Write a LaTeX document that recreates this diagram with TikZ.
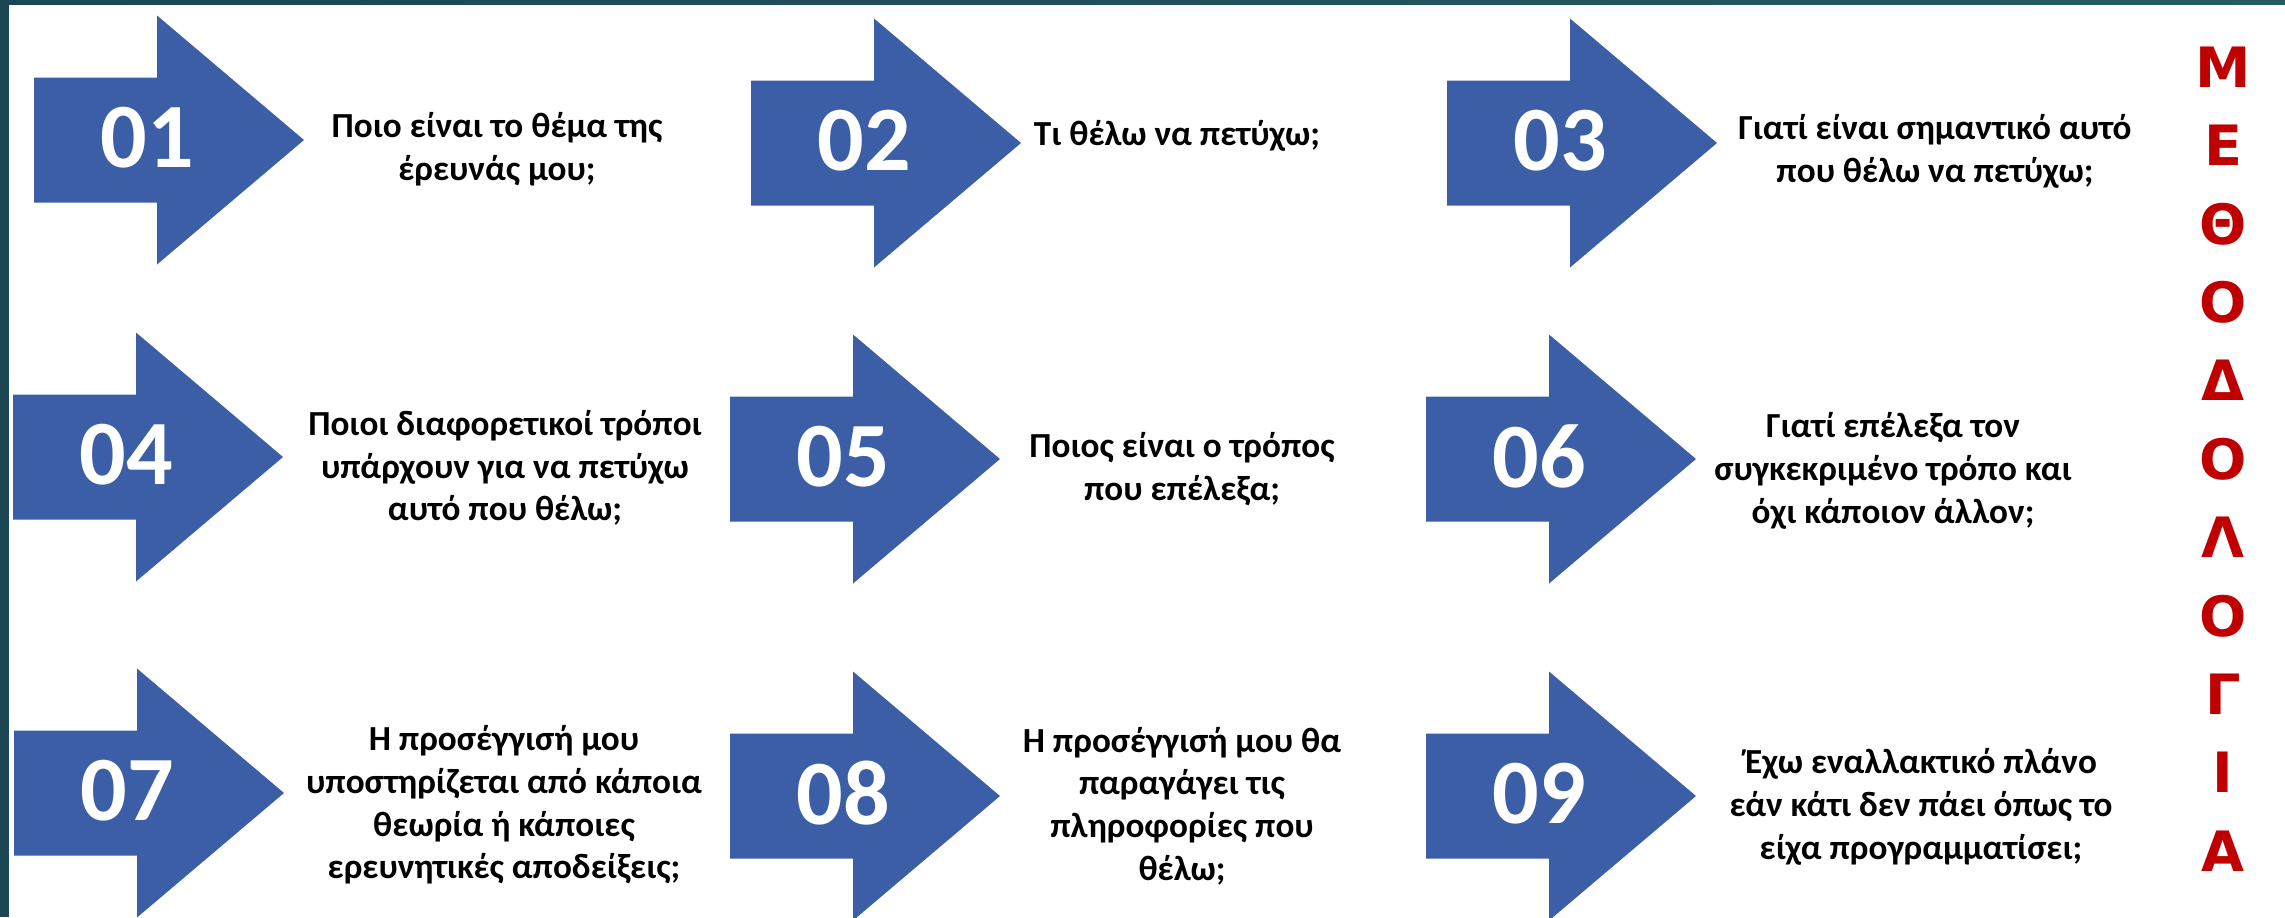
\documentclass[tikz,border=0pt]{standalone}
\usepackage{fontspec}
\setmainfont{Carlito}
\newfontfamily\redfont{DejaVu Sans}
\usepackage{tikz}
\usetikzlibrary{calc}
\definecolor{arrowblue}{RGB}{59,94,166}
\definecolor{titlered}{RGB}{192,0,0}
\definecolor{frameteal}{RGB}{27,70,84}
\definecolor{frametop}{RGB}{36,92,96}
\tikzset{
	blockarrow/.style={fill=arrowblue},
	stepnum/.style={text=white,font=\bfseries\fontsize{46}{46}\selectfont,inner sep=0pt},
	question/.style={align=center,font=\bfseries\fontsize{17.6}{21.35}\selectfont,inner sep=0pt},
	vertword/.style={align=center,text=titlered,font=\redfont\bfseries\fontsize{27.8}{39.2}\selectfont,inner sep=0pt}
}

\begin{document}
\begin{tikzpicture}[x=0.5pt,y=-0.5pt]
			\useasboundingbox (0,0) rectangle (2285,917);
			\fill[white] (0,0) rectangle (2285,917);
			% frame
			\fill[frameteal] (0,0) rectangle (9,917);
			\fill[left color=frameteal,right color=frametop] (0,0) rectangle (2285,4);
			% arrows (left end, middle)
			\coordinate (a01) at (34,140);
			\coordinate (a02) at (751,143);
			\coordinate (a03) at (1447,143);
			\coordinate (a04) at (13,457);
			\coordinate (a05) at (730,459);
			\coordinate (a06) at (1426,459);
			\coordinate (a07) at (14,793);
			\coordinate (a08) at (730,796);
			\coordinate (a09) at (1426,796);
			\fill[blockarrow] (a01) ++(0,-62.5) -- ++(123,0) -- ++(0,-62) -- ++(147,124.5) -- ++(-147,124.5) -- ++(0,-62) -- ++(-123,0) -- cycle;
			\fill[blockarrow] (a02) ++(0,-62.5) -- ++(123,0) -- ++(0,-62) -- ++(147,124.5) -- ++(-147,124.5) -- ++(0,-62) -- ++(-123,0) -- cycle;
			\fill[blockarrow] (a03) ++(0,-62.5) -- ++(123,0) -- ++(0,-62) -- ++(147,124.5) -- ++(-147,124.5) -- ++(0,-62) -- ++(-123,0) -- cycle;
			\fill[blockarrow] (a04) ++(0,-62.5) -- ++(123,0) -- ++(0,-62) -- ++(147,124.5) -- ++(-147,124.5) -- ++(0,-62) -- ++(-123,0) -- cycle;
			\fill[blockarrow] (a05) ++(0,-62.5) -- ++(123,0) -- ++(0,-62) -- ++(147,124.5) -- ++(-147,124.5) -- ++(0,-62) -- ++(-123,0) -- cycle;
			\fill[blockarrow] (a06) ++(0,-62.5) -- ++(123,0) -- ++(0,-62) -- ++(147,124.5) -- ++(-147,124.5) -- ++(0,-62) -- ++(-123,0) -- cycle;
			\fill[blockarrow] (a07) ++(0,-62.5) -- ++(123,0) -- ++(0,-62) -- ++(147,124.5) -- ++(-147,124.5) -- ++(0,-62) -- ++(-123,0) -- cycle;
			\fill[blockarrow] (a08) ++(0,-62.5) -- ++(123,0) -- ++(0,-62) -- ++(147,124.5) -- ++(-147,124.5) -- ++(0,-62) -- ++(-123,0) -- cycle;
			\fill[blockarrow] (a09) ++(0,-62.5) -- ++(123,0) -- ++(0,-62) -- ++(147,124.5) -- ++(-147,124.5) -- ++(0,-62) -- ++(-123,0) -- cycle;
			% numbers
			\node[stepnum] (n01) at ($(a01)+(113,-2.5)$) {01};
			\node[stepnum] (n02) at ($(a02)+(113,-2.5)$) {02};
			\node[stepnum] (n03) at ($(a03)+(113,-2.5)$) {03};
			\node[stepnum] (n04) at ($(a04)+(113,-2.5)$) {04};
			\node[stepnum] (n05) at ($(a05)+(113,-2.5)$) {05};
			\node[stepnum] (n06) at ($(a06)+(113,-2.5)$) {06};
			\node[stepnum] (n07) at ($(a07)+(113,-2.5)$) {07};
			\node[stepnum] (n08) at ($(a08)+(113,-2.5)$) {08};
			\node[stepnum] (n09) at ($(a09)+(113,-2.5)$) {09};
			% questions
			\node[question] (q01) at (497,149) {Ποιο είναι το θέμα της\\έρευνάς μου;};
			\node[question] (q02) at (1177,136) {Τι θέλω να πετύχω;};
			\node[question] (q03) at (1935,151) {Γιατί είναι σημαντικό αυτό\\που θέλω να πετύχω;};
			\node[question] (q04) at (505,468) {Ποιοι διαφορετικοί τρόποι\\υπάρχουν για να πετύχω\\αυτό που θέλω;};
			\node[question] (q05) at (1182,469) {Ποιος είναι ο τρόπος\\που επέλεξα;};
			\node[question] (q06) at (1893,471) {Γιατί επέλεξα τον\\συγκεκριμένο τρόπο και\\όχι κάποιον άλλον;};
			\node[question] (q07) at (504,805) {Η προσέγγισή μου\\υποστηρίζεται από κάποια\\θεωρία ή κάποιες\\ερευνητικές αποδείξεις;};
			\node[question] (q08) at (1182,806) {Η προσέγγισή μου θα\\παραγάγει τις\\πληροφορίες που\\θέλω;};
			\node[question] (q09) at (1921,807) {Έχω εναλλακτικό πλάνο\\εάν κάτι δεν πάει όπως το\\είχα προγραμματίσει;};
			% vertical title
			\node[vertword] (title) at (2223,459) {Μ\\Ε\\Θ\\Ο\\Δ\\Ο\\Λ\\Ο\\Γ\\Ι\\Α};
		\end{tikzpicture}
\end{document}
